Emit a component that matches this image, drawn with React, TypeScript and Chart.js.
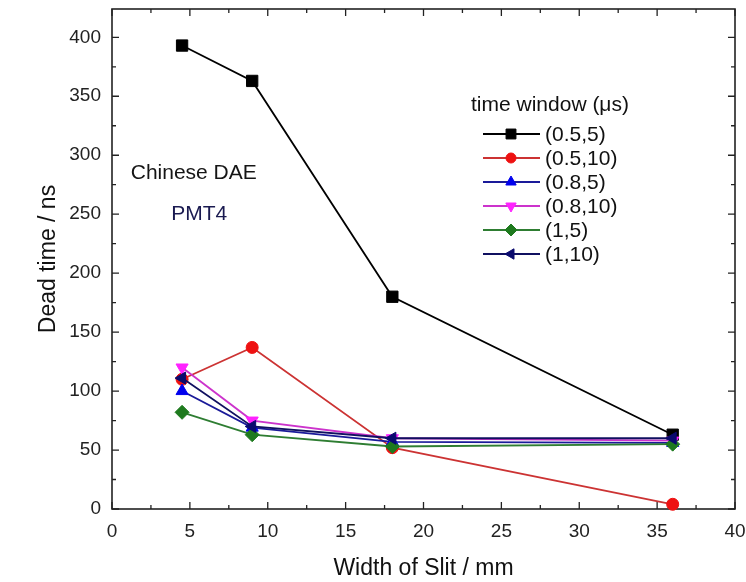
import React, { useEffect, useRef } from 'react';
import { Chart, registerables } from 'chart.js';
import { drawPoint } from 'chart.js/helpers';

Chart.register(...registerables);

// ---- data ----
const slitWidths = [4.5, 9, 18, 36];
const seriesLabels = ['(0.5,5)', '(0.5,10)', '(0.8,5)', '(0.8,10)', '(1,5)', '(1,10)'];
const s05_5 = [393, 363, 180, 63];
const s05_10 = [110, 137, 52, 4];
const s08_5 = [100, 69, 57, 56];
const s08_10 = [120, 75, 60, 58];
const s1_5 = [82, 63, 53, 55];
const s1_10 = [111, 70, 60, 60];
const xTicks = [0, 5, 10, 15, 20, 25, 30, 35, 40];
const yTicks = [0, 50, 100, 150, 200, 250, 300, 350, 400];
const xTitle = 'Width of Slit / mm';
const yTitle = 'Dead time / ns';
const legendTitle = 'time window (\u03bcs)';
const noteLines = ['Chinese DAE', 'PMT4'];

const FONT = '"Liberation Sans", Arial, Helvetica, sans-serif';

const styles = [
  { color: '#000000', line: '#000000', point: 'rect', radius: 8, rotation: 0 },
  { color: '#ee1111', line: '#cc3333', point: 'circle', radius: 6, rotation: 0 },
  { color: '#0000ee', line: '#1a1a99', point: 'triangle', radius: 7, rotation: 0 },
  { color: '#ff22ff', line: '#cc33cc', point: 'triangle', radius: 7, rotation: 180 },
  { color: '#1e7a1e', line: '#2e7d32', point: 'rectRot', radius: 7, rotation: 0 },
  { color: '#0a0a6e', line: '#101060', point: 'triangle', radius: 7, rotation: 270 },
];

const allSeries = [s05_5, s05_10, s08_5, s08_10, s1_5, s1_10];

const framePlugin = {
  id: 'frameTicks',
  beforeDatasetsDraw(chart: any) {
    const { ctx, chartArea: a, scales } = chart;
    const xs = scales.x;
    const ys = scales.y;
    ctx.save();
    ctx.strokeStyle = '#222';
    ctx.lineWidth = 1.6;
    ctx.strokeRect(a.left, a.top, a.right - a.left, a.bottom - a.top);
    ctx.lineWidth = 1.3;
    ctx.beginPath();
    for (let v = 0; v <= 40; v += 2.5) {
      const px = xs.getPixelForValue(v);
      const len = v % 5 === 0 ? 7 : 4;
      ctx.moveTo(px, a.bottom);
      ctx.lineTo(px, a.bottom - len);
      ctx.moveTo(px, a.top);
      ctx.lineTo(px, a.top + len);
    }
    for (let v = 0; v <= 420; v += 25) {
      const py = ys.getPixelForValue(v);
      if (py < a.top) continue;
      const len = v % 50 === 0 ? 7 : 4;
      ctx.moveTo(a.left, py);
      ctx.lineTo(a.left + len, py);
      ctx.moveTo(a.right, py);
      ctx.lineTo(a.right - len, py);
    }
    ctx.stroke();
    ctx.restore();
  },
};

const legendPlugin = {
  id: 'insideLegend',
  afterDatasetsDraw(chart: any) {
    const { ctx, chartArea: a } = chart;
    ctx.save();
    ctx.textBaseline = 'middle';
    ctx.textAlign = 'left';
    ctx.fillStyle = '#111';
    ctx.font = `21px ${FONT}`;
    const x0 = a.left + 359;
    ctx.fillText(legendTitle, x0, a.top + 96);
    seriesLabels.forEach((lab, i) => {
      const y = a.top + 125 + i * 24;
      const st = styles[i];
      ctx.strokeStyle = st.line;
      ctx.lineWidth = 1.8;
      ctx.beginPath();
      ctx.moveTo(x0 + 12, y);
      ctx.lineTo(x0 + 69, y);
      ctx.stroke();
      ctx.fillStyle = st.color;
      ctx.strokeStyle = st.color;
      ctx.lineWidth = 1;
      drawPoint(ctx, { pointStyle: st.point, radius: st.radius - 1, rotation: st.rotation, borderWidth: 1 }, x0 + 40, y);
      ctx.fillStyle = '#111';
      ctx.fillText(lab, x0 + 74, y + 1);
    });
    ctx.restore();
  },
};

const notePlugin = {
  id: 'notes',
  afterDatasetsDraw(chart: any) {
    const { ctx, scales } = chart;
    ctx.save();
    ctx.textAlign = 'center';
    ctx.textBaseline = 'middle';
    ctx.font = `21px ${FONT}`;
    ctx.fillStyle = '#151515';
    ctx.fillText(noteLines[0], scales.x.getPixelForValue(5.25), scales.y.getPixelForValue(285));
    ctx.fillStyle = '#1a1a50';
    ctx.fillText(noteLines[1], scales.x.getPixelForValue(5.6), scales.y.getPixelForValue(250));
    ctx.restore();
  },
};

export default function App() {
  const ref = useRef<HTMLCanvasElement>(null);
  useEffect(() => {
    if (!ref.current) return;
    const datasets = allSeries.map((vals, i) => ({
      label: seriesLabels[i],
      data: slitWidths.map((x, j) => ({ x, y: vals[j] })),
      borderColor: styles[i].line,
      backgroundColor: styles[i].color,
      pointBackgroundColor: styles[i].color,
      pointBorderColor: styles[i].color,
      pointStyle: styles[i].point,
      pointRotation: styles[i].rotation,
      pointRadius: styles[i].radius,
      pointBorderWidth: 1,
      borderWidth: 1.8,
      tension: 0,
      clip: false,
      order: 6 - i,
    }));
    const chart = new Chart(ref.current, {
      type: 'line',
      data: { datasets },
      options: {
        responsive: false,
        animation: false,
        layout: { padding: { left: 0, top: 8, right: 11, bottom: 0 } },
        plugins: { legend: { display: false }, tooltip: { enabled: false }, title: { display: false } },
        scales: {
          x: {
            type: 'linear',
            min: 0,
            max: 40,
            grid: { display: false, drawTicks: false },
            border: { display: false },
            afterBuildTicks: (s: any) => { s.ticks = xTicks.map((v) => ({ value: v })); },
            afterFit: (s: any) => { s.height = 73; s.paddingLeft = 0; s.paddingRight = 0; },
            ticks: { padding: 11, color: '#222', font: { family: FONT, size: 19 }, maxRotation: 0, autoSkip: false },
            title: { display: true, text: xTitle, color: '#111', font: { family: FONT, size: 23 }, padding: { top: 0, bottom: 0 } },
          },
          y: {
            type: 'linear',
            min: 0,
            max: 424,
            grid: { display: false, drawTicks: false },
            border: { display: false },
            afterBuildTicks: (s: any) => { s.ticks = yTicks.map((v) => ({ value: v })); },
            afterFit: (s: any) => { s.width = 112; s.paddingTop = 0; s.paddingBottom = 0; },
            ticks: { padding: 11, color: '#222', font: { family: FONT, size: 19 }, autoSkip: false },
            title: { display: true, text: yTitle, color: '#111', font: { family: FONT, size: 23 }, padding: { top: 35, bottom: 0 } },
          },
        },
      },
      plugins: [framePlugin, legendPlugin, notePlugin],
    });
    return () => chart.destroy();
  }, []);
  return (
    <div style={{ position: 'absolute', left: 0, top: 0, width: 746, height: 582, background: '#fff' }}>
      <canvas ref={ref} width={746} height={582} />
    </div>
  );
}
